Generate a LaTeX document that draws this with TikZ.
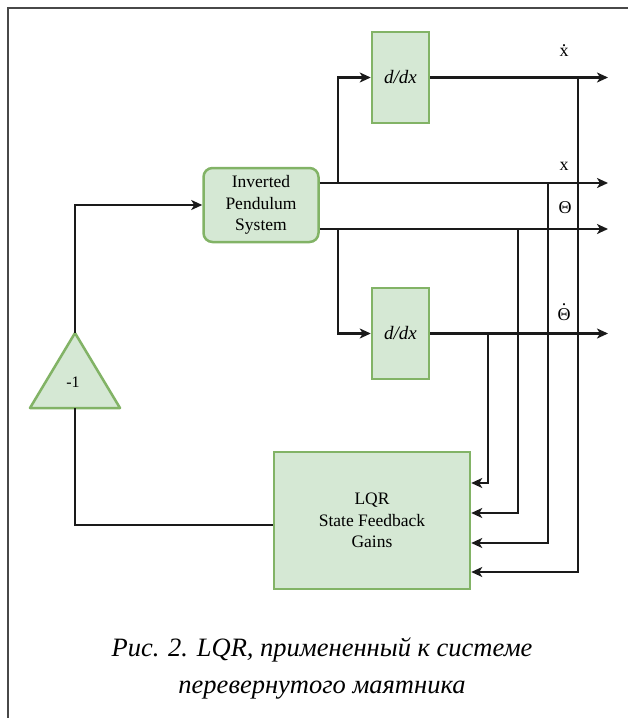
\documentclass[tikz,border=0pt]{standalone}
\usepackage{fontspec}
\setmainfont{Liberation Serif}
\usetikzlibrary{arrows.meta,calc}
\definecolor{gfill}{HTML}{D5E8D4}
\definecolor{gdraw}{HTML}{82B366}
\definecolor{ink}{HTML}{1A1A1A}
\newcommand{\dotover}[2]{{\ooalign{#1\cr\hidewidth\raisebox{#2}{.}\hidewidth\cr}}}
\begin{document}
\begin{tikzpicture}[x=1pt,y=-1pt,
  blk/.style={draw=gdraw,fill=gfill,line width=2.5pt,inner sep=0pt,align=center,
    font=\fontsize{17.5}{21.5}\selectfont},
  ddx/.style={blk,minimum width=57pt,minimum height=91pt,font=\itshape\fontsize{19}{21}\selectfont},
  wire/.style={draw=ink,line width=2.5pt},
  arr/.style={wire,-{Stealth[length=11pt,width=10pt,inset=3pt]}},
  lbl/.style={font=\fontsize{18}{20}\selectfont,inner sep=0pt}]
\useasboundingbox (0,0) rectangle (628,718);
\draw[line width=1.5pt,draw=ink!80] (8,718) -- (8,8) -- (628,8);

% blocks
\node[blk,rounded corners=9pt,minimum width=115pt,minimum height=74pt] (ips) at (261,205) {Inverted\\Pendulum\\System};
\node[ddx] (d1) at (400.5,77.5) {d/dx};
\node[ddx] (d2) at (400.5,333.5) {d/dx};
\node[blk,minimum width=196pt,minimum height=137pt] (lqr) at (372,520.5) {LQR\\State Feedback\\Gains};

% gain triangle
\coordinate (gtop) at (75,333);
\coordinate (gbot) at (75,408);
\draw[draw=gdraw,fill=gfill,line width=2.5pt,line join=round] (gtop) -- (120,408) -- (30,408) -- cycle;
\node[font=\fontsize{16}{18}\selectfont,inner sep=0pt] (gain) at (73,382) {-1};

% output end points
\coordinate (xdout) at (608,77.5);
\coordinate (xout) at (608,183);
\coordinate (thout) at (608,229);
\coordinate (thdout) at (608,333.5);

% outputs of the plant
\draw[arr] (ips.east |- xout) -- (xout);
\draw[arr] (ips.east |- thout) -- (thout);
\coordinate (b1) at (338,183);
\coordinate (b2) at (338,229);
\draw[arr] (b1) |- (d1.west);
\draw[arr] (b2) |- (d2.west);
\draw[arr] (d1.east) -- (xdout);
\draw[arr] (d2.east) -- (thdout);

% feedback taps
\coordinate (t1) at (488,333.5);
\coordinate (t2) at (518,229);
\coordinate (t3) at (548,183);
\coordinate (t4) at (578,77.5);
\draw[arr] (t1) |- (lqr.east |- 0,483);
\draw[arr] (t2) |- (lqr.east |- 0,513);
\draw[arr] (t3) |- (lqr.east |- 0,543);
\draw[arr] (t4) |- (lqr.east |- 0,572);

% loop back
\draw[wire] (lqr.west |- 0,525) -| (gbot);
\draw[arr] (gtop) |- (ips.west);

% labels
\node[lbl,anchor=base] (lxd) at (564,56) {\dotover{x}{0.55em}};
\node[lbl,anchor=base] (lx) at (564,170) {x};
\node[lbl,anchor=base] (lth) at (565,213) {Θ};
\node[lbl,anchor=base] (lthd) at (564,320) {\dotover{Θ}{0.8em}};

% caption
\node[font=\itshape\fontsize{26.5}{37}\selectfont,align=center,inner sep=0pt] (cap) at (322,668) {Рис. 2. LQR, примененный к системе\\перевернутого маятника};
\end{tikzpicture}
\end{document}
